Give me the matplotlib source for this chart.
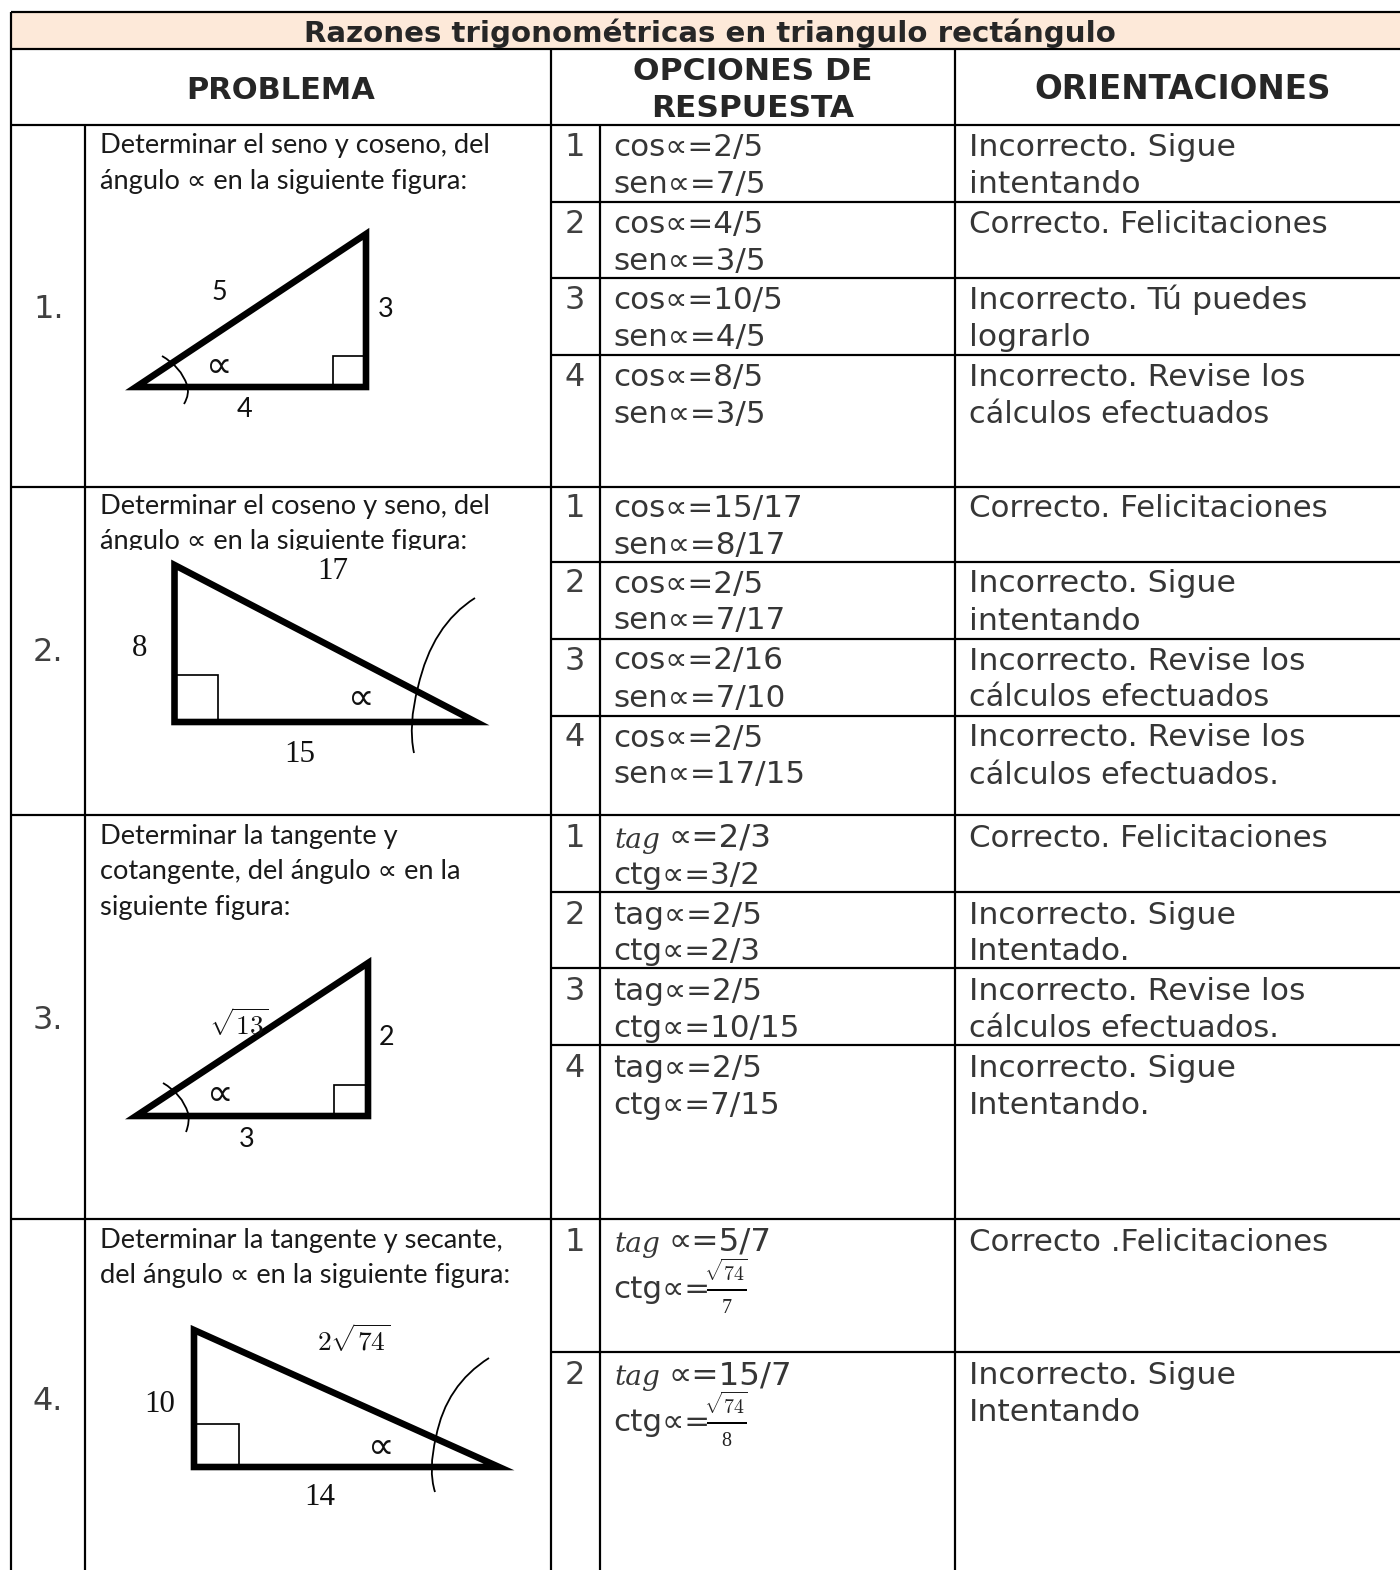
import matplotlib
matplotlib.use("Agg")
import matplotlib.pyplot as plt
from matplotlib.patches import Rectangle, PathPatch, Polygon
from matplotlib.path import Path

TITLE = "Razones trigonométricas en triangulo rectángulo"
HEADERS = ["PROBLEMA", "OPCIONES DE", "RESPUESTA", "ORIENTACIONES"]
PROBLEM_NUMBERS = ["1.", "2.", "3.", "4."]
PROBLEM_TEXT = [
    ["Determinar el seno y coseno, del", "ángulo ∝ en la siguiente figura:"],
    ["Determinar el coseno y seno, del", "ángulo ∝ en la siguiente figura:"],
    ["Determinar la tangente y", "cotangente, del ángulo ∝ en la", "siguiente figura:"],
    ["Determinar la tangente y secante,", "del ángulo ∝ en la siguiente figura:"],
]
OPTIONS = [
    [["cos∝=2/5", "sen∝=7/5"], ["cos∝=4/5", "sen∝=3/5"], ["cos∝=10/5", "sen∝=4/5"], ["cos∝=8/5", "sen∝=3/5"]],
    [["cos∝=15/17", "sen∝=8/17"], ["cos∝=2/5", "sen∝=7/17"], ["cos∝=2/16", "sen∝=7/10"], ["cos∝=2/5", "sen∝=17/15"]],
    [["∝=2/3", "ctg∝=3/2"], ["tag∝=2/5", "ctg∝=2/3"], ["tag∝=2/5", "ctg∝=10/15"], ["tag∝=2/5", "ctg∝=7/15"]],
    [["∝=5/7", "ctg∝="], ["∝=15/7", "ctg∝="]],
]
ORIENTATIONS = [
    [["Incorrecto. Sigue", "intentando"], ["Correcto. Felicitaciones"], ["Incorrecto. Tú puedes", "lograrlo"], ["Incorrecto. Revise los", "cálculos efectuados"]],
    [["Correcto. Felicitaciones"], ["Incorrecto. Sigue", "intentando"], ["Incorrecto. Revise los", "cálculos efectuados"], ["Incorrecto. Revise los", "cálculos efectuados."]],
    [["Correcto. Felicitaciones"], ["Incorrecto. Sigue", "Intentado."], ["Incorrecto. Revise los", "cálculos efectuados."], ["Incorrecto. Sigue", "Intentando."]],
    [["Correcto .Felicitaciones"], ["Incorrecto. Sigue", "Intentando"]],
]
ROW_TOPS = [125, 486.5, 815, 1219]
SUB_TOPS = [[125, 202, 278, 355], [486.5, 562, 639, 716], [815, 891.5, 968, 1045], [1219, 1352]]
FRACTION_DEN = ["7", "8"]

DARK = "#363636"
px = 0.72
fig = plt.figure(figsize=(14, 15.7), dpi=100)
ax = fig.add_axes([0, 0, 1, 1])
ax.set_xlim(0, 1400); ax.set_ylim(1570, 0); ax.axis("off")
CAL = ["Lato", "DejaVu Sans"]
SER = ["Liberation Serif", "DejaVu Serif"]

def T(x, y, s, size, fam="DejaVu Sans", color=DARK, ha="left", va="baseline", **k):
    return ax.text(x, y, s, fontsize=size * px, family=fam, color=color, ha=ha, va=va, **k)

def L(xs, ys, lw=2.2):
    ax.plot(xs, ys, color="black", lw=lw * px, solid_capstyle="butt", zorder=5)

def orient_size(s):
    if s.startswith("cálculos"):
        return 30.4
    if s.startswith("Correcto"):
        return 30.9
    return 31.5

# title band and headers
ax.add_patch(Rectangle((11, 13), 1389, 36, fc="#FDE9D9", ec="none"))
HEAD = "#262626"
T(710, 42, TITLE, 29.2, color=HEAD, ha="center", weight="bold")
T(281, 99, HEADERS[0], 30.5, color=HEAD, ha="center", weight="bold")
T(752.5, 80, HEADERS[1], 31.4, color=HEAD, ha="center", weight="bold")
T(752.5, 117, HEADERS[2], 31.3, color=HEAD, ha="center", weight="bold")
T(1183, 99, HEADERS[3], 32.6, color=HEAD, ha="center", weight="bold")

# grid
L([11, 1400], [12, 12]); L([11, 1400], [49, 49]); L([11, 1400], [125, 125])
L([11, 11], [12, 1570])
L([85, 85], [125, 1570])
L([551, 551], [49, 1570]); L([955, 955], [49, 1570]); L([600, 600], [125, 1570])
for top in ROW_TOPS[1:]:
    L([11, 1400], [top, top])
for tops in SUB_TOPS:
    for t in tops[1:]:
        L([551, 1400], [t, t])

# numbers of the problems
for n, y in zip(PROBLEM_NUMBERS, [318, 661, 1029, 1410]):
    T(33, y, n, 32, color="#404040")

# problem statements
for top, dy, lines in zip(ROW_TOPS, [0, -0.5, 1, 1], PROBLEM_TEXT):
    for i, s in enumerate(lines):
        T(100, top + dy + 28 + i * 35.5, s, 27.2, fam=CAL, color="#1a1a1a")

# options and orientations
for r, (tops, dy) in enumerate(zip(SUB_TOPS, [0, -0.5, 1, 1])):
    for o, t in enumerate(tops):
        base = t + dy + 31
        T(575, base, str(o + 1), 32, ha="center", color="#404040")
        lines = OPTIONS[r][o]
        if lines[0].startswith("∝"):
            T(614, base + 1, "tag", 28, fam="DejaVu Serif", style="italic")
            T(668, base, lines[0], 32.5)
        else:
            T(613.5, base, lines[0], 31)
        if r == 3:
            T(613.5, t + 79, lines[1], 31)
            T(726, t + 62, r"$\sqrt{74}$", 20, ha="center", color="#222222",
              math_fontfamily="cm")
            L([707, 747], [t + 70.5, t + 70.5], 2)
            T(726.5, t + 94, FRACTION_DEN[o], 20, fam="Liberation Serif", ha="center", color="#222222")
        else:
            T(613.5, t + dy + 68, lines[1], 31)
        for i, s in enumerate(ORIENTATIONS[r][o]):
            T(969, base + i * 37, s, orient_size(s))

# figures
def tri(pts, sq, arc, lw=6.6):
    ax.add_patch(Polygon(pts, closed=True, fc="none", ec="black", lw=lw * px, joinstyle="miter", zorder=4))
    ax.add_patch(Rectangle(sq[:2], sq[2], sq[3], fc="none", ec="black", lw=1.7 * px, zorder=3))
    codes = [Path.MOVETO] + [Path.CURVE3] * (len(arc) - 1)
    ax.add_patch(PathPatch(Path(arc, codes), fc="none", ec="black", lw=1.8 * px, zorder=5))

# white box of the pasted figure: it cuts the descenders of the second statement
ax.add_patch(Rectangle((100, 549.5), 440, 14, fc="white", ec="none", zorder=3.5))

tri([(136, 387), (366, 387), (366, 234)], (333, 356, 33, 31),
    [(162, 356), (181, 367), (187, 385), (190, 394), (184, 404)])
tri([(174.5, 565), (174.5, 722), (476, 722)], (174.5, 675, 43.5, 47),
    [(475, 598), (432, 625), (418, 687), (408, 725), (414, 753)])
tri([(136, 1116), (368, 1116), (368, 963)], (334, 1085, 34, 31),
    [(163, 1083), (182, 1094), (188, 1113), (190, 1122), (186, 1132)])
tri([(194, 1330), (194, 1467), (499, 1467)], (194, 1424, 45, 43),
    [(489, 1358), (446, 1385), (436, 1437), (428, 1470), (435, 1492)])

FS = 27
for x, y, s in [(219, 300, "5"), (386, 317, "3"), (245, 417, "4"),
                (247, 1147, "3"), (387, 1045, "2")]:
    T(x, y, s, FS, fam=CAL, color="#111111", ha="center")
for x, y in [(219, 377), (220, 1105), (361, 709), (381, 1458)]:
    T(x, y, "∝", 37, color="#111111", ha="center")
for x, y, s in [(333, 579, "17"), (140, 656, "8"), (300, 762, "15"), (160, 1412, "10"), (320, 1505, "14")]:
    T(x, y, s, 31, fam=SER, color="#111111", ha="center", zorder=6)
T(239, 1035, r"$\sqrt{13}$", 27.5, color="#111111", ha="center", math_fontfamily="cm", zorder=6)
T(354, 1351, r"$2\sqrt{74}$", 27.5, color="#111111", ha="center", math_fontfamily="cm")

fig.savefig("out.png", dpi=100, facecolor="white")
